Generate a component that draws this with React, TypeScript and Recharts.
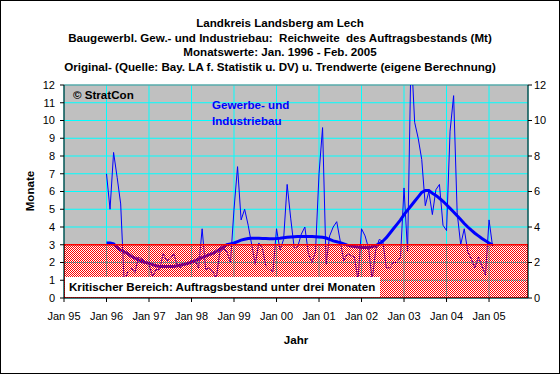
import React from 'react';
import { LineChart, Line, XAxis, YAxis, CartesianGrid, ReferenceArea, ReferenceLine } from 'recharts';

const FONT = '"Liberation Sans", Arial, sans-serif';

// x = month index counted from Jan 1995 (0); series start Jan 1996 (12)
const startMonth = 12;

// Original monthly values, Jan 1996 – Feb 2005
const originalValues = [
  7.0, 5.0, 8.2, 6.8, 5.3, 0.8, 1.5, 1.7, 1.4, 2.3, 2.2, 2.0,
  1.9, 1.2, 1.6, 1.6, 2.5, 2.1, 2.2, 2.5, 1.8, 1.7, 1.9, 2.0,
  2.1, 2.1, 1.7, 3.9, 1.6, 1.7, 1.5, 1.1, 2.6, 2.8, 2.6, 2.0,
  5.0, 7.4, 4.4, 5.0, 4.1, 3.0, 1.9, 3.1, 2.8, 1.8, 1.6, 1.5,
  3.9, 2.7, 3.3, 6.4, 4.5, 2.8, 2.9, 3.6, 4.0, 2.5, 2.0, 2.6,
  7.0, 9.6, 1.9, 3.5, 4.0, 4.3, 3.2, 2.1, 2.5, 2.4, 2.3, 1.0,
  3.9, 3.5, 2.8, 1.0, 2.7, 3.3, 3.2, 1.7, 1.7, 2.0, 2.0, 2.3,
  6.2, 2.6, 14.0, 9.9, 9.0, 7.8, 5.2, 6.0, 4.7, 6.1, 6.4, 4.1,
  3.8, 9.4, 11.4, 4.8, 3.0, 3.9, 2.6, 2.2, 1.7, 2.3, 1.8, 1.3,
  4.4, 2.9,
];

// Trend values, Jan 1996 – Feb 2005
const trendValues = [
  3.1, 3.1, 3.05, 2.85, 2.7, 2.6, 2.5, 2.35, 2.25, 2.15, 2.05, 2.0,
  1.95, 1.88, 1.82, 1.78, 1.77, 1.77, 1.77, 1.78, 1.82, 1.86, 1.9, 1.95,
  2.02, 2.1, 2.2, 2.28, 2.36, 2.44, 2.52, 2.62, 2.75, 2.88, 3.0, 3.05,
  3.1, 3.18, 3.26, 3.31, 3.35, 3.37, 3.37, 3.36, 3.35, 3.35, 3.34, 3.34,
  3.35, 3.37, 3.4, 3.42, 3.44, 3.45, 3.46, 3.47, 3.47, 3.47, 3.46, 3.45,
  3.44, 3.42, 3.38, 3.3, 3.22, 3.17, 3.12, 3.05, 2.98, 2.93, 2.9, 2.87,
  2.85, 2.84, 2.85, 2.88, 2.95, 3.05, 3.2, 3.4, 3.65, 3.9, 4.15, 4.4,
  4.7, 4.95, 5.2, 5.45, 5.7, 5.95, 6.05, 6.05, 5.9, 5.78, 5.62, 5.45,
  5.25, 5.05, 4.85, 4.63, 4.42, 4.2, 4.0, 3.82, 3.65, 3.5, 3.35, 3.22,
  3.1, 3.0,
];

const yearTicks = [0, 12, 24, 36, 48, 60, 72, 84, 96, 108, 120];
const yearLabels = ['Jan 95', 'Jan 96', 'Jan 97', 'Jan 98', 'Jan 99', 'Jan 00', 'Jan 01', 'Jan 02', 'Jan 03', 'Jan 04', 'Jan 05'];
const leftTicks = [0, 1, 2, 3, 4, 5, 6, 7, 8, 9, 10, 11, 12];
const rightTicks = [0, 2, 4, 6, 8, 10, 12];
const criticalLevel = 3;

const titleLines = [
  'Landkreis Landsberg am Lech',
  'Baugewerbl. Gew.- und Industriebau:  Reichweite  des Auftragsbestands (Mt)',
  'Monatswerte: Jan. 1996 - Feb. 2005',
  'Original- (Quelle: Bay. LA f. Statistik u. DV) u. Trendwerte (eigene Berechnung)',
];

const data = originalValues.map((v, i) => ({
  m: startMonth + i,
  original: v,
  trend: trendValues[i],
}));

const boldText: React.CSSProperties = {
  position: 'absolute',
  fontFamily: FONT,
  fontWeight: 'bold',
  fontSize: 11.6,
  whiteSpace: 'pre',
  lineHeight: '14px',
  color: '#000',
};

export default function App() {
  const tickStyle = { fill: '#000', fontSize: 11, fontFamily: FONT };
  return (
    <div style={{ position: 'absolute', left: 0, top: 0, width: 560, height: 374, background: '#fff', overflow: 'hidden' }}>
      <div style={{ ...boldText, left: 0, top: 16, width: 560, textAlign: 'center', lineHeight: '14.5px' }}>
        {titleLines.map((t) => (
          <div key={t}>{t}</div>
        ))}
      </div>
      <LineChart
        width={560}
        height={374}
        data={data}
        margin={{ top: 85, right: 0, bottom: 0, left: 0 }}
        style={{ position: 'absolute', left: 0, top: 0 }}
      >
        <defs>
          <pattern id="redChecker" x="0" y="0" width="2" height="2" patternUnits="userSpaceOnUse">
            <rect x="0" y="0" width="1" height="1" fill="#FF0000" shapeRendering="crispEdges" />
            <rect x="1" y="1" width="1" height="1" fill="#FF0000" shapeRendering="crispEdges" />
          </pattern>
        </defs>
        <ReferenceArea yAxisId="left" y1={criticalLevel} y2={12} fill="#C0C0C0" fillOpacity={1} stroke="none" zIndex={-300} ifOverflow="hidden" />
        <ReferenceArea yAxisId="left" y1={0} y2={criticalLevel} fill="#FFFFFF" fillOpacity={1} stroke="none" zIndex={-300} ifOverflow="hidden" />
        <CartesianGrid yAxisId="left" stroke="#00FFFF" strokeWidth={1} horizontal vertical />
        <XAxis
          type="number"
          dataKey="m"
          domain={[0, 131]}
          ticks={yearTicks}
          interval={0}
          allowDataOverflow
          tickFormatter={(v: number) => yearLabels[yearTicks.indexOf(v)] ?? ''}
          height={76}
          tickSize={4}
          tickMargin={10}
          stroke="#000"
          tick={tickStyle}
        />
        <YAxis
          yAxisId="left"
          domain={[0, 12]}
          ticks={leftTicks}
          interval={0}
          allowDataOverflow
          width={64}
          tickSize={4}
          tickMargin={5}
          stroke="#000"
          tick={tickStyle}
        />
        <YAxis
          yAxisId="right"
          orientation="right"
          domain={[0, 12]}
          ticks={rightTicks}
          interval={0}
          allowDataOverflow
          width={32}
          tickSize={4}
          tickMargin={2}
          stroke="#000"
          tick={tickStyle}
        />
        <ReferenceLine yAxisId="left" y={12} stroke="#808080" strokeWidth={1} />
        <Line
          yAxisId="left"
          type="linear"
          dataKey="original"
          stroke="#0000FF"
          strokeWidth={1}
          dot={false}
          activeDot={false}
          isAnimationActive={false}
        />
        <Line
          yAxisId="left"
          type="linear"
          dataKey="trend"
          stroke="#0000FF"
          strokeWidth={3}
          dot={false}
          activeDot={false}
          isAnimationActive={false}
        />
        <ReferenceArea
          yAxisId="left"
          y1={0}
          y2={criticalLevel}
          fill="url(#redChecker)"
          fillOpacity={1}
          stroke="#FF0000"
          strokeWidth={1.5}
          zIndex={450}
          ifOverflow="hidden"
        />
      </LineChart>
      <div style={{ ...boldText, left: 73, top: 88 }}>© StratCon</div>
      <div style={{ ...boldText, left: 212, top: 97, color: '#0000FF', lineHeight: '15.5px' }}>
        <div>Gewerbe- und</div>
        <div>Industriebau</div>
      </div>
      <div style={{ position: 'absolute', left: 65, top: 277, width: 315, height: 20, background: '#fff' }} />
      <div style={{ ...boldText, left: 69, top: 280 }}>Kritischer Bereich: Auftragsbestand unter drei Monaten</div>
      <div style={{ ...boldText, left: 0, top: 333, width: 592, textAlign: 'center' }}>Jahr</div>
      <div
        style={{
          ...boldText,
          left: 30,
          top: 191,
          transform: 'translate(-50%, -50%) rotate(-90deg)',
        }}
      >
        Monate
      </div>
      <div style={{ position: 'absolute', left: 0, top: 0, width: 560, height: 374, border: '1px solid #000', boxSizing: 'border-box', pointerEvents: 'none' }} />
    </div>
  );
}
